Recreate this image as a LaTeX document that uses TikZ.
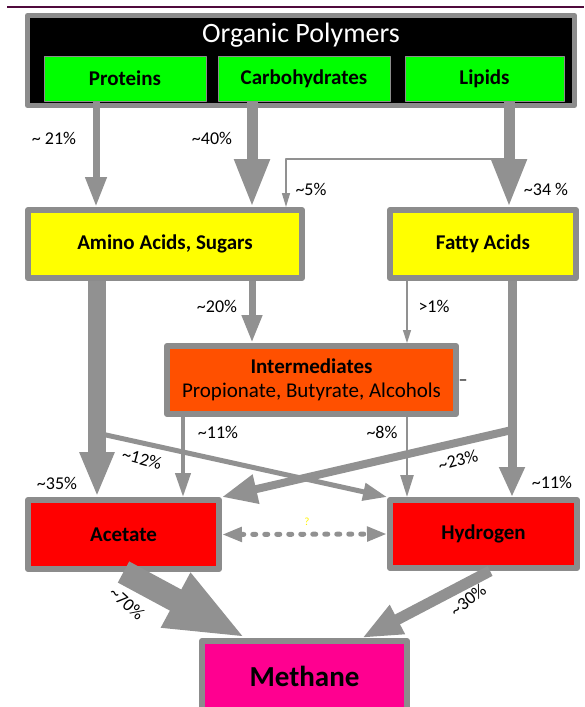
\documentclass[tikz,border=0pt]{standalone}
\usepackage{fontspec}
\setmainfont{Carlito}
\usetikzlibrary{arrows.meta}
\definecolor{boxgray}{RGB}{140,140,140}
\definecolor{flowgray}{RGB}{145,145,145}
\definecolor{polygreen}{RGB}{0,255,0}
\definecolor{acidyellow}{RGB}{255,255,0}
\definecolor{interorange}{RGB}{255,80,0}
\definecolor{endred}{RGB}{255,0,0}
\definecolor{methpink}{RGB}{255,0,144}
\definecolor{topline}{RGB}{80,10,60}
\newcommand{\apx}{\textasciitilde}
\begin{document}
\begin{tikzpicture}[x=1pt, y=-1pt, line join=round,
	box/.style={draw=boxgray, line width=6pt, inner sep=0pt, font=\fontsize{21}{24}\selectfont\bfseries},
	sub/.style={draw=boxgray, line width=1pt, fill=polygreen, inner sep=0pt, font=\fontsize{21}{24}\selectfont\bfseries},
	pct/.style={font=\fontsize{18}{20}\selectfont, inner sep=0pt},
	flow/.style n args={3}{draw=flowgray, line width=#1, -{Triangle[width=#2,length=#3]}}]
	\useasboundingbox (0,0) rectangle (584,707);
	\draw[topline, line width=2.5pt] (7,7) -- (584,7);
	% boxes
	\node[box, draw=boxgray, line width=5pt, fill=black, minimum width=547, minimum height=90] (polymers) at (301,60.5) {};
	\node[text=white, font=\fontsize{28}{30}\selectfont] (title) at (301,35) {Organic Polymers};
	\node[sub, minimum width=162, minimum height=45] (proteins) at (125,78.5) {Proteins};
	\node[sub, minimum width=172, minimum height=45] (carbs) at (304,78.5) {Carbohydrates};
	\node[sub, minimum width=159, minimum height=45] (lipids) at (484.5,78.5) {Lipids};
	\node[box, fill=acidyellow, minimum width=274, minimum height=68] (amino) at (165,244) {Amino Acids, Sugars};
	\node[box, fill=acidyellow, minimum width=186, minimum height=68] (fatty) at (483,244) {Fatty Acids};
	\node[box, fill=interorange, minimum width=289, minimum height=68, align=center] (inter) at (311.5,380) {Intermediates\\{\mdseries Propionate, Butyrate, Alcohols}};
	\node[box, fill=endred, minimum width=191, minimum height=69] (acetate) at (123.5,534.5) {Acetate};
	\node[box, fill=endred, minimum width=187, minimum height=68] (hydrogen) at (483.5,534) {Hydrogen};
	\node[box, fill=methpink, minimum width=205, minimum height=70, font=\fontsize{29}{32}\selectfont\bfseries] (methane) at (304.5,676) {Methane};
	% columns of the flows
	\path (96,0) coordinate (c21) (252,0) coordinate (c40) (286,0) coordinate (c05) (509,0) coordinate (c34)
		(407,0) coordinate (c01) (97,0) coordinate (c35) (183,0) coordinate (cia) (512,0) coordinate (cfh)
		(509,159) coordinate (split5) (97,433) coordinate (split12) (512,430) coordinate (split23)
		(490,0) coordinate (c30) (246,0) coordinate (c70) (362,0) coordinate (c70b);
	% flows
	\draw[flow={7pt}{20pt}{30pt}] (proteins.south -| c21) -- (amino.north -| c21);
	\draw[flow={11pt}{33pt}{48pt}] (carbs.south -| c40) -- (amino.north -| c40);
	\draw[flow={11pt}{33pt}{48pt}] (lipids.south -| c34) -- (fatty.north -| c34);
	\draw[flow={1.5pt}{8pt}{14pt}] (split5) -| (amino.north -| c05);
	\draw[flow={7pt}{19pt}{28pt}] (amino.south -| c40) -- (inter.north -| c40);
	\draw[flow={1.5pt}{8pt}{13pt}] (fatty.south -| c01) -- (inter.north -| c01);
	\draw[flow={5pt}{17pt}{24pt}] (split12) -- (hydrogen.north west);
	\draw[flow={18pt}{32pt}{45pt}] (amino.south -| c35) -- (acetate.north -| c35);
	\draw[flow={4pt}{15pt}{24pt}] (inter.south -| cia) -- (acetate.north -| cia);
	\draw[flow={2.5pt}{13pt}{22pt}] (inter.south -| c01) -- (hydrogen.north -| c01);
	\draw[flow={8pt}{28pt}{35pt}] (split23) -- (acetate.north east);
	\draw[flow={9pt}{24pt}{30pt}] (fatty.south -| cfh) -- (hydrogen.north -| cfh);
	\draw[flow={24pt}{56pt}{80pt}] (acetate.south) -- (methane.north -| c70);
	\draw[flow={11pt}{30pt}{40pt}] (hydrogen.south -| c30) -- (methane.north -| c70b);
	\draw[draw=flowgray, line width=5pt, line cap=round, dash pattern=on 3pt off 9pt,
		{Triangle[width=14pt,length=20pt]}-{Triangle[width=14pt,length=20pt]}] (acetate.east) -- (hydrogen.west);
	% percentages
	\foreach \n/\p/\a/\t in {l21/{54,138}/0/{\apx\ 21\%}, l40/{212,138}/0/{\apx40\%}, l05/{311,189}/0/{\apx5\%},
		l34/{546,189}/0/{\apx34 \%}, l20/{217,306}/0/{\apx20\%}, l01/{434,306}/0/{>1\%}, l11a/{218,432}/0/{\apx11\%},
		l08/{382,432}/0/{\apx8\%}, l12/{142,459}/-15/{\apx12\%}, l23/{458,460}/15/{\apx23\%}, l35/{57,483}/0/{\apx35\%},
		l11b/{552,482}/0/{\apx11\%}, l70/{127,603}/-42/{\apx70\%}, l30/{468,600}/38/{\apx30\%}}
		\node[pct, rotate=\a] (\n) at (\p) {\t};
	\node[pct, text=yellow, font=\fontsize{11}{12}\selectfont] (unknown) at (307,522) {?};
	\node[pct] (dash) at (463,383) {--};
\end{tikzpicture}
\end{document}
